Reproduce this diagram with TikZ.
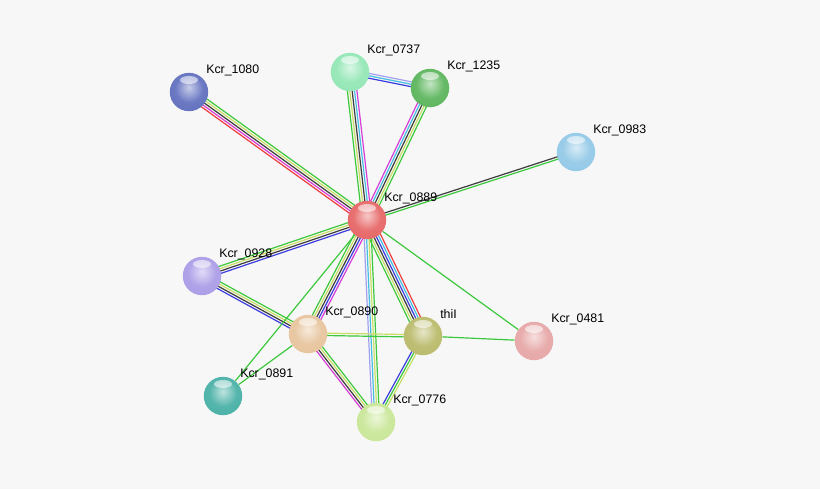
\documentclass[tikz,border=0pt]{standalone}
\usepackage{fontspec}
\setmainfont{Liberation Sans}
\usetikzlibrary{calc,backgrounds}

% evidence channels
\definecolor{bgcol}{RGB}{247,247,247}
\definecolor{nb}{RGB}{60,200,60}
\definecolor{tm}{RGB}{200,222,100}
\definecolor{coex}{RGB}{60,60,60}
\definecolor{exp}{RGB}{215,60,215}
\definecolor{fus}{RGB}{240,60,60}
\definecolor{cooc}{RGB}{60,60,225}
\definecolor{db}{RGB}{70,190,225}
\definecolor{hom}{RGB}{160,160,240}
% proteins
\definecolor{c1080}{RGB}{95,110,190}
\definecolor{c0737}{RGB}{145,230,180}
\definecolor{c1235}{RGB}{90,180,90}
\definecolor{c0983}{RGB}{145,200,230}
\definecolor{c0889}{RGB}{230,100,100}
\definecolor{c0928}{RGB}{170,155,230}
\definecolor{c0890}{RGB}{230,195,155}
\definecolor{cthil}{RGB}{185,185,105}
\definecolor{c0481}{RGB}{230,165,165}
\definecolor{c0891}{RGB}{70,175,165}
\definecolor{c0776}{RGB}{200,230,150}

% sphere look
\makeatletter
\pgfdeclareradialshading[tikz@ball]{glossy}{\pgfqpoint{0bp}{6bp}}{%
    color(0bp)=(tikz@ball!35!white); color(18bp)=(tikz@ball!92!white);
    color(38bp)=(tikz@ball); color(50bp)=(tikz@ball!72!black);
    color(70bp)=(tikz@ball!55!black)}
\makeatother

\newcommand{\lsep}{1.7}
\newcommand{\bundle}[3]{%
    \foreach \col [count=\i] in {#3} {\xdef\nlines{\i}}%
    \foreach \col [count=\i] in {#3} {
        \pgfmathsetmacro\off{((\nlines+1)/2-\i)*\lsep}
        \draw[edge, color=\col] ($(#1.center)!\off pt!90:(#2.center)$) -- ($(#2.center)!\off pt!-90:(#1.center)$);
    }%
}

\begin{document}
\begin{tikzpicture}[x=0.025cm, y=-0.025cm,
    ball/.style={circle, inner sep=0pt, minimum size=0.96cm, ball color=#1, shading=glossy},
    lbl/.style={anchor=west, inner sep=0pt, font=\fontsize{8.8}{10}\selectfont, text=black},
    edge/.style={line width=0.85pt}]
    % proteins
    \foreach \id/\name/\x/\y in {1080/Kcr\_1080/189/92, 0737/Kcr\_0737/350/72,
        1235/Kcr\_1235/430/88, 0983/Kcr\_0983/576/152, 0889/Kcr\_0889/367/220,
        0928/Kcr\_0928/202/276, 0890/Kcr\_0890/308/334, thil/thiI/423/336,
        0481/Kcr\_0481/534/341, 0891/Kcr\_0891/223/396, 0776/Kcr\_0776/376/422}{
        \node[ball=c\id] (n\id) at (\x,\y) {};
        \fill[white, opacity=0.55] ($(n\id)+(0,-12)$) ellipse (9 and 4);
        \node[lbl] (l\id) at ($(n\id)+(17,-22)$) {\name};
    }

    % interactions
    \begin{scope}[on background layer]
        \fill[bgcol] (0,0) rectangle (820,489);
        \bundle{n1080}{n0889}{nb,tm,coex,exp,fus}
        \bundle{n0737}{n1235}{hom,db,cooc}
        \bundle{n0737}{n0889}{exp,db,coex,tm,nb}
        \bundle{n1235}{n0889}{nb,tm,coex,db,exp}
        \bundle{n0889}{n0983}{coex,nb}
        \bundle{n0889}{n0928}{cooc,coex,tm,nb}
        \bundle{n0928}{n0890}{nb,tm,coex,cooc}
        \bundle{n0889}{n0890}{exp,cooc,coex,tm,nb}
        \bundle{n0889}{nthil}{fus,db,cooc,coex,tm,nb}
        \bundle{n0889}{n0776}{nb,tm,db,hom}
        \bundle{n0890}{nthil}{tm,nb}
        \bundle{n0890}{n0776}{nb,tm,coex,exp}
        \bundle{nthil}{n0776}{tm,nb,cooc}
        \foreach \a/\b in {0889/0481, 0889/0891, 0890/0891, thil/0481}
            \draw[edge, nb] (n\a) -- (n\b);
    \end{scope}
\end{tikzpicture}
\end{document}
